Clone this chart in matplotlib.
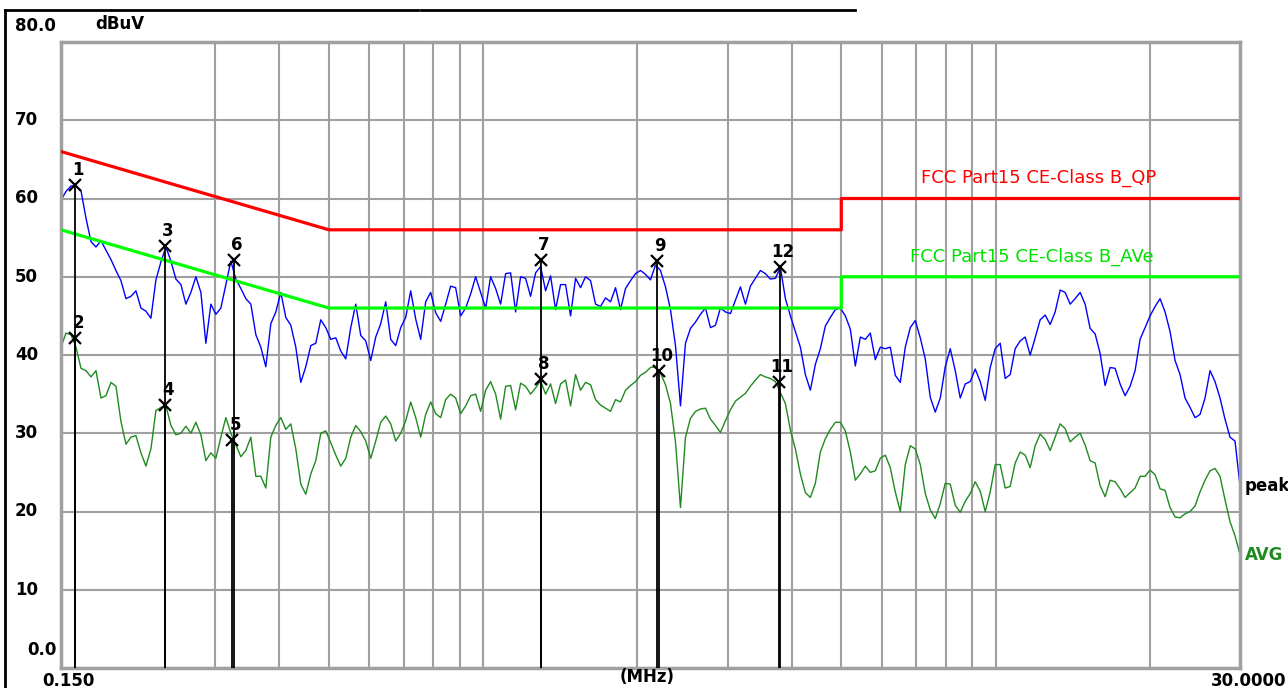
import numpy as np
import matplotlib.pyplot as plt
from matplotlib.lines import Line2D

peak_levels = [
    59.8, 60.9, 61.6, 61.6, 61.0, 57.5, 54.5, 53.8, 54.6, 53.4, 52.2, 50.8, 49.5, 47.2,
    47.5, 48.2, 46.0, 45.6, 44.7, 49.6, 51.9, 53.8, 52.0, 49.7, 49.0, 46.5, 48.0, 50.0,
    48.0, 41.5, 46.5, 45.2, 46.0, 49.0, 52.0, 49.7, 48.5, 47.2, 46.5, 42.6, 41.0, 38.5,
    44.0, 45.5, 48.0, 44.8, 43.8, 41.0, 36.5, 38.5, 41.2, 41.5, 44.5, 43.5, 42.0, 42.2,
    40.5, 39.5, 43.5, 46.5, 42.5, 41.8, 39.3, 42.3, 44.0, 46.8, 42.0, 41.2, 43.5, 44.8,
    48.2, 44.6, 42.0, 46.8, 48.0, 45.4, 44.3, 46.5, 48.8, 48.6, 45.0, 46.0, 47.8, 50.0,
    48.0, 46.0, 50.0, 48.5, 46.5, 50.4, 50.5, 45.5, 50.0, 49.8, 47.5, 50.5, 51.3, 48.2,
    50.1, 45.8, 49.0, 49.0, 45.0, 49.8, 48.6, 50.0, 49.5, 46.5, 46.2, 47.3,
    46.8, 48.6, 45.8, 48.5, 49.5, 50.4, 50.8, 50.3, 49.6, 51.5, 50.8, 48.7, 45.8, 41.2,
    33.5, 41.5, 43.4, 44.2, 45.2, 46.0, 43.5, 43.8, 46.0, 45.5, 45.3, 47.0, 48.7, 46.5,
    48.8, 49.8, 50.8, 50.4, 49.7, 49.8, 51.2, 47.2, 45.0, 43.0, 41.0, 37.5, 35.5, 38.8,
    40.8, 43.7, 44.8, 45.8, 46.0,
    45.0, 43.3, 38.6, 42.3, 42.0, 42.8, 39.4, 41.0, 40.8, 41.0, 37.4, 36.5, 41.0, 43.5,
    44.4, 42.2, 39.5, 34.6, 32.7, 34.5, 38.5, 40.8, 38.0, 34.5, 36.3, 36.6, 38.2, 36.6,
    34.2, 38.4, 40.8, 41.5, 37.0, 37.5, 40.8, 41.8, 42.3, 40.0, 42.2, 44.5, 45.1, 43.9,
    45.5, 48.3, 48.0, 46.5, 47.2, 48.0, 46.5,
    43.4, 42.7, 40.2, 36.1, 38.4, 38.3, 36.3, 34.8, 36.0, 38.0, 42.0, 43.5, 45.0, 46.2,
    47.2, 45.5, 43.0, 39.3, 37.5, 34.5, 33.3, 32.0, 32.4, 34.5, 38.0, 36.6, 34.5, 31.8,
    29.5, 29.0, 23.3,
]

# average trace (dBuV)
avg_levels = [
    41.0, 42.8, 42.6, 41.0, 38.3, 38.0, 37.2, 38.0, 34.5, 34.8, 36.5, 36.0, 31.5, 28.6,
    29.5, 29.7, 27.5, 25.8, 28.0, 32.9, 33.3, 33.5, 31.0, 29.8, 30.0, 30.9, 30.0, 31.4,
    29.8, 26.5, 27.5, 26.8, 29.5, 32.0, 30.0, 28.5, 27.0, 27.8, 29.5, 24.5, 24.5, 23.0,
    29.5, 31.0, 32.0, 30.5, 31.2, 28.0, 23.5, 22.2, 24.8, 26.5, 30.0, 30.3, 28.8, 27.2,
    25.8, 26.8, 29.5, 31.0, 30.2, 29.0, 26.8, 29.0, 31.4, 32.2, 31.2, 29.0, 30.0, 31.6,
    34.0, 32.0, 29.5, 32.4, 34.0, 32.5, 32.0, 34.3, 35.0, 34.5, 32.5, 33.5, 34.8, 35.0,
    32.8, 35.5, 36.6, 35.0, 31.8, 36.0, 36.1, 33.0, 36.4, 36.0, 35.0, 35.8, 36.7, 35.0,
    36.3, 33.8, 36.3, 36.8, 33.5, 37.5, 35.5, 36.5, 36.2, 34.3, 33.6, 33.2,
    32.8, 34.3, 34.0, 35.5, 36.1, 36.6, 37.4, 37.8, 38.4, 38.5, 37.7, 36.2, 33.8, 28.9,
    20.5, 29.5, 31.9, 32.8, 33.1, 33.2, 31.8, 31.0, 30.1, 31.6, 33.0, 34.1, 34.6, 35.1,
    36.0, 36.8, 37.5, 37.2, 37.0, 36.6, 35.2, 33.8, 30.4, 28.0, 24.8, 22.4, 21.8, 23.6,
    27.6, 29.3, 30.5, 31.4, 31.4,
    30.3, 27.6, 24.0, 24.8, 25.8, 25.0, 25.2, 26.8, 27.2, 25.6, 22.5, 20.0, 26.0, 28.4,
    28.0, 26.0, 22.3, 20.2, 19.1, 21.0, 23.6, 23.5, 20.8, 19.9, 21.3, 22.3, 23.8, 22.6,
    20.0, 22.5, 26.0, 26.0, 23.0, 23.2, 26.2, 27.6, 27.2, 25.6, 28.4, 29.9, 29.2, 27.8,
    29.5, 31.2, 30.6, 28.9, 29.5, 30.0, 28.5,
    26.5, 26.2, 23.3, 21.9, 24.0, 23.8, 22.9, 21.8, 22.4, 23.0, 24.5, 24.5, 25.3, 24.7,
    22.9, 22.7, 20.5, 19.3, 19.2, 19.7, 20.0, 20.7, 22.5, 24.0, 25.2, 25.5, 24.5, 21.5,
    18.7, 16.9, 14.5,
]

# sweep points of the receiver, log spaced from 150 kHz to 30 MHz
sweep_freq = np.geomspace(0.15, 30.0, len(peak_levels))

# FCC Part 15 class B limits
qp_freq = [0.15, 0.5, 5.0, 5.0, 30.0]
qp_level = [66.0, 56.0, 56.0, 60.0, 60.0]
av_freq = [0.15, 0.5, 5.0, 5.0, 30.0]
av_level = [56.0, 46.0, 46.0, 50.0, 50.0]

# markers
marker_no = ['1', '2', '3', '4', '5', '6', '7', '8', '9', '10', '11', '12']
marker_freq = [0.160, 0.160, 0.239, 0.239, 0.324, 0.326, 1.297, 1.297, 2.184, 2.204, 3.779, 3.795]
marker_level = [61.7, 42.2, 53.9, 33.6, 29.2, 52.1, 52.2, 36.9, 52.0, 38.0, 36.5, 51.3]

y_ticks = [0, 10, 20, 30, 40, 50, 60, 70, 80]
y_tick_labels = ['0.0', '10', '20', '30', '40', '50', '60', '70', '80.0']
x_grid = [0.3, 0.4, 0.5, 0.6, 0.7, 0.8, 0.9, 1, 2, 3, 4, 5, 6, 7, 8, 9, 10, 20]

W, H = 1288, 688
fig = plt.figure(figsize=(W / 100, H / 100), dpi=100)
ax = fig.add_axes([61 / W, 1 - 668 / H, 1179 / W, 626 / H])

grid_col = '#a0a0a0'
ax.set_xscale('log')
ax.set_xlim(0.15, 30)
ax.set_ylim(0, 80)
ax.set_xticks(x_grid)
ax.set_xticks([], minor=True)
ax.set_yticks(y_ticks)
ax.tick_params(length=0, labelbottom=False, labelleft=False, which='both')
ax.grid(True, color=grid_col, lw=1.5)
for s in ax.spines.values():
    s.set_color(grid_col)
    s.set_linewidth(2.5)

ax.plot(sweep_freq, peak_levels, color='#0000ff', lw=1.0, zorder=2)
ax.plot(sweep_freq, avg_levels, color='#1f8a1f', lw=1.0, zorder=2)
ax.plot(qp_freq, qp_level, color='#ff0000', lw=2.3, zorder=3)
ax.plot(av_freq, av_level, color='#00ff00', lw=2.3, zorder=3)

bold = dict(family='DejaVu Sans', fontweight='bold', fontsize=12)

for no, f, lv in zip(marker_no, marker_freq, marker_level):
    ax.vlines(f, 0, lv, color='black', lw=1.3, zorder=4)
    ax.plot(f, lv, marker='x', color='black', ms=8, mew=1.6, zorder=5)
    ax.annotate(no, (f, lv), xytext=(3, 15), textcoords='offset pixels',
                ha='center', va='center', zorder=6, **bold)

ax.text(7.15, 62.6, 'FCC Part15 CE-Class B_QP', color='#ff0000',
        family='DejaVu Sans', fontsize=13, va='center')
ax.text(6.81, 52.5, 'FCC Part15 CE-Class B_AVe', color='#00e000',
        family='DejaVu Sans', fontsize=13, va='center')

# trace names at the right end
ax.annotate('peak', (30, peak_levels[-1]), xytext=(5, 0), textcoords='offset pixels',
            ha='left', va='center', color='black', annotation_clip=False, **bold)
ax.annotate('AVG', (30, avg_levels[-1]), xytext=(5, 0), textcoords='offset pixels',
            ha='left', va='center', color='#1f8a1f', annotation_clip=False, **bold)

# y labels on the left
for v, lab in zip(y_ticks, y_tick_labels):
    dy = 0
    x0 = 15
    if v == 80:
        dy = 16
    if v == 0:
        dy = 18
        x0 = 27
    ax.annotate(lab, (x0 / W, v), xycoords=('figure fraction', 'data'),
                xytext=(0, dy), textcoords='offset pixels',
                ha='left', va='center', annotation_clip=False, **bold)
fig.text(95 / W, 1 - 24 / H, 'dBuV', ha='left', va='center', **bold)

# x labels
ax.annotate('0.150', (0.15, 0), xytext=(7, -13), textcoords='offset pixels',
            ha='center', va='center', annotation_clip=False, **bold)
ax.annotate('30.0000', (30, 0), xytext=(46, -13), textcoords='offset pixels',
            ha='right', va='center', annotation_clip=False, **bold)
ax.text(0.497, 0, '(MHz)', transform=ax.transAxes, ha='center', va='top', **bold)

# window border from the screenshot
fig.add_artist(Line2D([5 / W, 5 / W], [0, 1 - 10 / H], color='black', lw=2))
fig.add_artist(Line2D([5 / W, 418 / W], [1 - 10 / H, 1 - 10 / H], color='black', lw=2))
fig.add_artist(Line2D([421 / W, 855 / W], [1 - 10 / H, 1 - 10 / H], color='black', lw=2))

fig.savefig('out.png', dpi=100)
